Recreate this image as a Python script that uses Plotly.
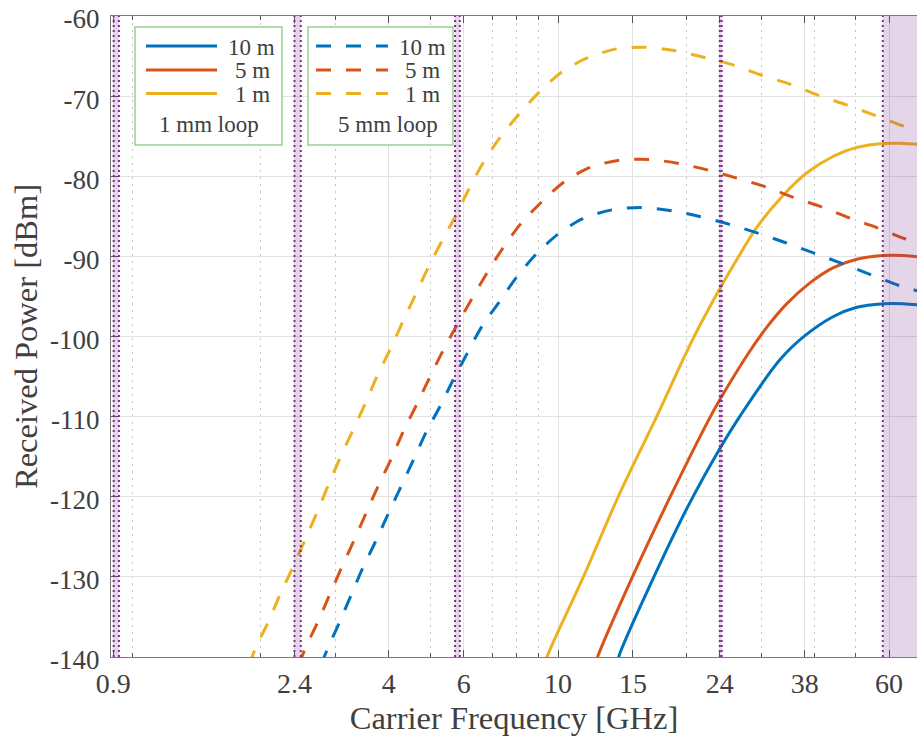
import numpy as np
import plotly.graph_objects as go

# --- valori: frecventa [GHz] / putere receptionata [dBm] ---
# bucla de 1 mm (linii continue)
f_1mm_10m = [13.75, 13.9, 16.6, 20.2, 24.0, 26.8, 33.3, 38.05, 44.4, 50.4, 58.1, 64.8, 70.0]
p_1mm_10m = [-141, -139.9, -130.6, -121.2, -114.0, -109.9, -102.85, -99.9, -97.5, -96.35, -95.9, -95.9, -96.05]
f_1mm_5m = [12.2, 12.4, 14.9, 18.2, 22.6, 24.0, 28.3, 30.9, 34.5, 39.1, 44.4, 50.4, 58.1, 64.8, 70.0]
p_1mm_5m = [-141, -139.9, -130.2, -120.4, -110.4, -107.9, -101.75, -98.9, -95.9, -93.3, -91.4, -90.35, -89.9,
            -89.9, -90.05]
f_1mm_1m = [9.3, 9.43, 11.47, 13.85, 17.05, 20.8, 24.2, 26.8, 29.3, 33.8, 38.4, 44.4, 50.4, 58.1, 64.8, 70.0]
p_1mm_1m = [-141, -139.9, -130, -120, -110, -100.2, -93.7, -89.7, -86.4, -82.4, -79.6, -77.5, -76.4, -75.9,
            -75.9, -76.0]

# bucla de 5 mm (linii punctate)
f_5mm_10m = [2.77, 2.87, 3.06, 3.26, 3.48, 3.73, 3.99, 4.27, 4.57, 4.89, 5.28, 5.67, 6.10, 6.61, 7.27, 7.99,
             8.87, 9.98, 11.43, 13.37, 15.7, 18.5, 21.4, 25.3, 29.5, 34.3, 40.0, 46.6, 54.1, 63.1, 70.0]
p_5mm_10m = [-141, -139.0, -135.7, -132.3, -128.8, -125.5, -122.1, -118.75, -115.4, -112.0, -108.7, -105.4,
             -102.2, -98.8, -95.7, -92.6, -89.75, -87.25, -85.3, -84.2, -83.9, -84.3, -85.0, -86.0, -87.1,
             -88.3, -89.6, -90.9, -92.25, -93.6, -94.3]
f_5mm_5m = [2.46, 2.54, 2.72, 2.90, 3.10, 3.31, 3.54, 3.78, 4.05, 4.33, 4.65, 4.98, 5.36, 5.78, 6.27, 6.80,
            7.41, 8.18, 9.15, 10.34, 11.89, 13.93, 16.3, 19.2, 22.4, 26.2, 30.7, 35.6, 41.5, 48.4, 56.1, 65.4, 70.0]
p_5mm_5m = [-141, -139.0, -135.7, -132.3, -128.8, -125.5, -122.0, -118.6, -115.3, -111.8, -108.5, -105.2,
            -101.8, -98.6, -95.3, -92.1, -89.0, -85.9, -83.2, -80.7, -78.9, -78.0, -77.9, -78.4, -79.2, -80.2,
            -81.3, -82.6, -83.8, -85.2, -86.4, -87.8, -88.3]
f_5mm_1m = [1.88, 1.94, 2.08, 2.22, 2.38, 2.54, 2.71, 2.88, 3.07, 3.29, 3.52, 3.75, 4.03, 4.31, 4.61, 4.95,
            5.33, 5.75, 6.15, 6.65, 7.27, 8.11, 9.03, 10.2, 11.74, 13.74, 16.0, 18.8, 21.4, 25.8, 30.1, 35.1,
            40.9, 47.7, 55.6, 64.6, 70.0]
p_5mm_1m = [-141, -139.0, -135.7, -132.2, -128.8, -125.4, -122.0, -118.6, -115.2, -111.75, -108.4, -105.0,
            -101.6, -98.2, -94.9, -91.4, -88.1, -84.9, -81.75, -78.4, -75.3, -72.2, -69.5, -67.0, -65.2, -64.1,
            -63.9, -64.3, -65.0, -66.1, -67.4, -68.5, -69.9, -71.1, -72.4, -73.7, -74.3]

# benzi ISM / mmWave (GHz)
band_lo = [0.902, 2.4, 5.725, 24.0, 58.0]
band_hi = [0.928, 2.4835, 5.875, 24.25, 80.0]

x_ticks = [0.9, 2.4, 4, 6, 10, 15, 24, 38, 60]
x_minor = [1, 2, 3, 5, 7, 8, 9, 20, 30, 40, 50]
y_ticks = [-140, -130, -120, -110, -100, -90, -80, -70, -60]

distances = ["10 m", "5 m", "1 m"]
colors = ["#0072BD", "#D95319", "#EDB120"]

FONT = "Liberation Serif"
TXT = "#404040"
W, H = 917, 741
L, R, T, B = 111, 917, 16, 657   # zona de plot in pixeli


def px(x):
    return (x - L) / (R - L)


def py(y):
    return (B - y) / (B - T)


fig = go.Figure()

solid = [(f_1mm_10m, p_1mm_10m), (f_1mm_5m, p_1mm_5m), (f_1mm_1m, p_1mm_1m)]
dashed = [(f_5mm_10m, p_5mm_10m), (f_5mm_5m, p_5mm_5m), (f_5mm_1m, p_5mm_1m)]

for (f, p), c, d in zip(solid, colors, distances):
    fig.add_trace(go.Scatter(x=f, y=p, mode="lines", name=d, showlegend=False,
                             line=dict(color=c, width=3, shape="spline", smoothing=1.0)))
for (f, p), c, d in zip(dashed, colors, distances):
    fig.add_trace(go.Scatter(x=f, y=p, mode="lines", name=d, showlegend=False,
                             line=dict(color=c, width=3, dash="15px,15px", shape="spline", smoothing=0.8)))

shapes = []
# benzi (semi-transparente, deasupra curbelor)
for lo, hi in zip(band_lo, band_hi):
    shapes.append(dict(type="rect", xref="x", yref="y", x0=lo, x1=hi, y0=-140, y1=-60,
                       fillcolor="rgba(126,47,142,0.2)", line=dict(width=0), layer="above"))
    for edge in (lo, hi):
        shapes.append(dict(type="line", xref="x", yref="y", x0=edge, x1=edge, y0=-140, y1=-60,
                           line=dict(color="#7E2F8E", width=2, dash="2px,3px"), layer="above"))

# legende desenate manual
GREEN = "#96D38F"
boxes = [(135, 282), (308, 453)]
for x0, x1 in boxes:
    shapes.append(dict(type="rect", xref="paper", yref="paper", x0=px(x0), x1=px(x1), y0=py(145), y1=py(27),
                       fillcolor="white", line=dict(color=GREEN, width=1.5), layer="above"))
rows_y = [46, 70, 93.5]
for yy, c in zip(rows_y, colors):
    shapes.append(dict(type="line", xref="paper", yref="paper", x0=px(146), x1=px(217), y0=py(yy), y1=py(yy),
                       line=dict(color=c, width=3), layer="above"))
    shapes.append(dict(type="line", xref="paper", yref="paper", x0=px(316), x1=px(388), y0=py(yy), y1=py(yy),
                       line=dict(color=c, width=3, dash="15px,15px"), layer="above"))

annotations = []
for yy, d in zip(rows_y, distances):
    for xs in (226, 396.7):
        xx = xs if d == "10 m" else xs + 6.5
        annotations.append(dict(x=px(xx), y=py(yy + 1), xref="paper", yref="paper", text=d, showarrow=False,
                                xanchor="left", yanchor="middle", font=dict(family=FONT, size=23, color=TXT)))
annotations.append(dict(x=px(208.5), y=py(124), xref="paper", yref="paper", text="1 mm loop", showarrow=False,
                        xanchor="center", yanchor="middle", font=dict(family=FONT, size=23, color=TXT)))
annotations.append(dict(x=px(388), y=py(124), xref="paper", yref="paper", text="5 mm loop", showarrow=False,
                        xanchor="center", yanchor="middle", font=dict(family=FONT, size=23, color=TXT)))

fig.update_layout(
    width=W, height=H,
    margin=dict(l=L, r=W - R, t=T, b=H - B, autoexpand=False),
    plot_bgcolor="white", paper_bgcolor="white",
    font=dict(family=FONT, color=TXT, size=28),
    shapes=shapes, annotations=annotations,
)

fig.update_xaxes(
    type="log", range=[np.log10(0.889), np.log10(69.8)], automargin=False,
    tickmode="array", tickvals=x_ticks, ticktext=[str(v) for v in x_ticks],
    ticks="inside", ticklen=7, tickcolor="#555", tickfont=dict(size=28, color=TXT),
    ticklabelstandoff=1, ticklabeloverflow="allow",
    showgrid=True, gridcolor="#E2E2E2", gridwidth=1,
    minor=dict(tickvals=x_minor, showgrid=True, gridcolor="#C4C4C4", griddash="2px,5px",
               ticks="inside", ticklen=4, tickcolor="#555"),
    showline=True, linecolor="#7a7a7a", linewidth=1, mirror="ticks",
    zeroline=False,
    title=dict(text="Carrier Frequency [GHz]", font=dict(size=32.5, color=TXT), standoff=8),
)
fig.update_yaxes(
    range=[-140, -60], automargin=False,
    tickmode="array", tickvals=y_ticks, ticktext=[str(v) for v in y_ticks],
    ticks="inside", ticklen=7, tickcolor="#555", tickfont=dict(size=27, color=TXT),
    ticklabelstandoff=5, ticklabelshift=3, ticklabeloverflow="allow",
    showgrid=True, gridcolor="#E2E2E2", gridwidth=1,
    showline=True, linecolor="#7a7a7a", linewidth=1,
    zeroline=False,
    title=dict(text="Received Power [dBm]", font=dict(size=32.5, color=TXT), standoff=2),
)

# fara marginea implicita de 8px a paginii, figura ocupa exact fereastra; fara bara de instrumente
fig.write_html("out.html", config={"displayModeBar": False},
               post_script="document.body.style.margin = '0';")
